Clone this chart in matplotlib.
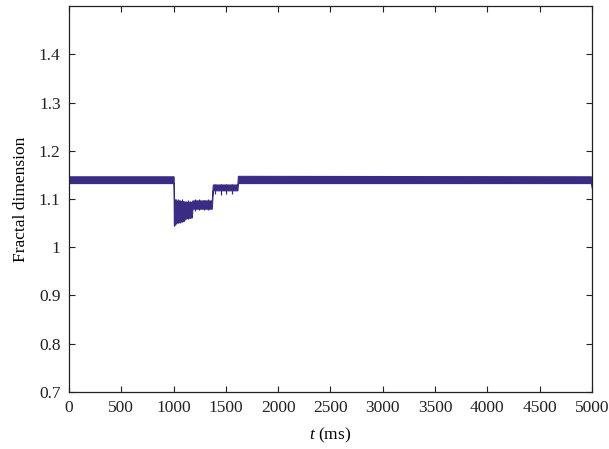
import matplotlib.pyplot as plt

plt.rcParams['font.family'] = ['Liberation Serif', 'DejaVu Serif']
plt.rcParams['mathtext.fontset'] = 'custom'
plt.rcParams['mathtext.it'] = 'Liberation Serif:italic'
plt.rcParams['mathtext.rm'] = 'Liberation Serif'

# envelope of the fractal dimension trace (lower / upper edge of the band)
t_ms = [0, 1000, 1004, 1010, 1100, 1110, 1175, 1180, 1365, 1375, 1610, 1615, 4990, 5000]
fd_low = [1.133, 1.133, 1.045, 1.050, 1.055, 1.060, 1.062, 1.080, 1.080, 1.118, 1.118, 1.133, 1.133, 1.122]
fd_high = [1.147, 1.147, 1.100, 1.097, 1.095, 1.094, 1.094, 1.097, 1.097, 1.130, 1.130, 1.148, 1.147, 1.140]

# spikes leaving the band during the transition
spike_t = [1006, 1015, 1024, 1038, 1050, 1062, 1078, 1092, 1120, 1140, 1160, 1200, 1240, 1290, 1330,
           1400, 1450, 1500, 1560]
spike_lo = [1.044, 1.047, 1.049, 1.050, 1.052, 1.051, 1.053, 1.055, 1.058, 1.059, 1.060, 1.076, 1.077,
            1.077, 1.077, 1.110, 1.109, 1.110, 1.111]
spike_hi = [1.102, 1.100, 1.101, 1.099, 1.098, 1.097, 1.099, 1.096, 1.096, 1.097, 1.095, 1.099, 1.099,
            1.098, 1.099, 1.131, 1.131, 1.131, 1.131]

xticks = list(range(0, 5001, 500))
yticks = [0.7, 0.8, 0.9, 1.0, 1.1, 1.2, 1.3, 1.4]
ylabels = ['0.7', '0.8', '0.9', '1', '1.1', '1.2', '1.3', '1.4']

color = '#3a2c84'
fs = 12.5

fig = plt.figure(figsize=(6.09, 4.49), dpi=100)
ax = fig.add_axes([0.1133, 0.127, 0.8587, 0.8596])

ax.fill_between(t_ms, fd_low, fd_high, color=color, lw=0.8, edgecolor=color)
ax.vlines(spike_t, spike_lo, spike_hi, color=color, lw=0.9)

ax.set_xlim(0, 5000)
ax.set_ylim(0.7, 1.5)
ax.set_xticks(xticks)
ax.set_yticks(yticks)
ax.set_yticklabels(ylabels)
ax.tick_params(direction='in', length=4, width=0.8, top=True, right=True,
               labelsize=fs, colors='#222222', pad=6)
for s in ax.spines.values():
    s.set_linewidth(0.9)
    s.set_color('#222222')

ax.set_xlabel('$t$ (ms)', fontsize=fs, labelpad=7)
ax.set_ylabel('Fractal dimension', fontsize=fs, labelpad=7)

plt.savefig('out.png')
